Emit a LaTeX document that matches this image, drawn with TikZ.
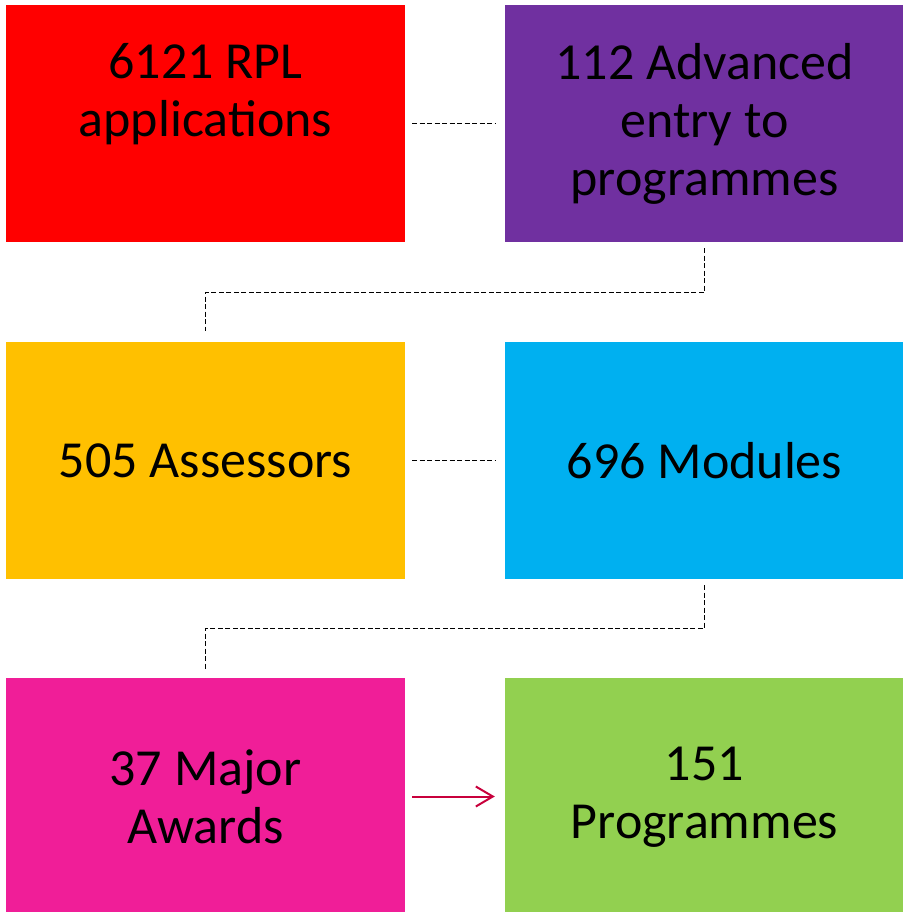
\documentclass[tikz,border=0pt]{standalone}
\usepackage{fontspec}
\setmainfont{Carlito}
\usetikzlibrary{arrows.meta}
\definecolor{cred}{HTML}{FF0000}
\definecolor{cpurple}{HTML}{7030A0}
\definecolor{corange}{HTML}{FFC000}
\definecolor{cblue}{HTML}{00B0F0}
\definecolor{cpink}{HTML}{F01E98}
\definecolor{cgreen}{HTML}{92D050}
\definecolor{carrow}{HTML}{C8003C}
\begin{document}
\begin{tikzpicture}[x=1pt,y=-1pt,
  box/.style={minimum width=399pt,minimum height=237pt,inner sep=0pt,align=center,
    font=\fontsize{52}{58}\selectfont,text=black,draw=none},
  conn/.style={draw=black,line width=1.4pt,dash pattern=on 5pt off 2.5pt},
  arr/.style={draw=carrow,line width=2pt,-{Straight Barb[length=17pt,width=20pt,line width=2pt]}}]
\useasboundingbox (0,0) rectangle (902,912);
\node[box,fill=cred]    (b1) at (205.5,123.5) {6121 RPL\\applications\\\vphantom{p}};
\node[box,fill=cpurple] (b2) at (704.5,123.5) {112 Advanced\\entry to\\programmes};
\node[box,fill=corange] (b3) at (205.5,460.5) {505 Assessors};
\node[box,fill=cblue]   (b4) at (704.5,460.5) {696 Modules};
\node[box,fill=cpink]   (b5) at (205.5,796.5) {37 Major\\Awards};
\node[box,fill=cgreen]  (b6) at (704.5,796.5) {\vphantom{Mj}151\\Programmes};
\draw[conn,shorten <=7pt,shorten >=10pt] (b1) -- (b2);
\draw[conn,shorten <=7pt,shorten >=10pt] (b3) -- (b4);
\coordinate (s1) at ([yshift=-6pt]b2.south);
\coordinate (e1) at ([yshift=11pt]b3.north);
\draw[conn] (s1) -- ++(0,44) -| (e1);
\coordinate (s2) at ([yshift=-6pt]b4.south);
\coordinate (e2) at ([yshift=8pt]b5.north);
\draw[conn] (s2) -- ++(0,43) -| (e2);
\draw[arr,shorten <=7pt,shorten >=10pt] (b5) -- (b6);
\end{tikzpicture}
\end{document}
